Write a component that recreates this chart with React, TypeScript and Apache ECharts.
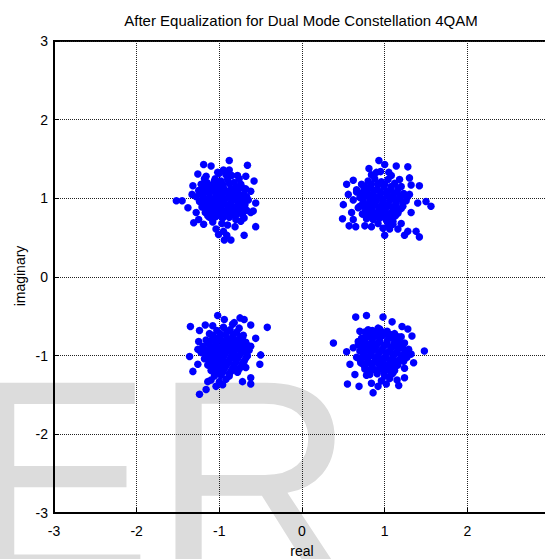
import React, { useEffect, useRef } from "react";
import * as echarts from "echarts";

const titleText = "After Equalization for Dual Mode Constellation 4QAM";
const xAxisName = "real";
const yAxisName = "imaginary";
const axisMin = -3;
const axisMax = 3;
const axisStep = 1;
const watermarkText = "ER";

// Cluster near (-1, 1)
const clusterTL: number[][] = [
  [-1.19, 1.43], [-1.10, 1.41], [-0.88, 1.48], [-1.02, 1.33], [-0.95, 1.36], [-0.88, 1.36],
  [-0.66, 1.42], [-1.26, 1.31], [-0.78, 1.29], [-0.68, 1.28], [-0.58, 1.22], [-1.52, 0.97],
  [-1.45, 0.97], [-1.38, 0.88], [-1.32, 1.16], [-1.33, 1.05], [-0.62, 1.09], [-0.56, 0.94],
  [-0.59, 0.84], [-0.62, 0.82], [-0.70, 0.75], [-0.56, 0.64], [-1.31, 0.69], [-1.25, 0.73],
  [-1.28, 0.82], [-1.19, 0.67], [-1.04, 0.61], [-1.01, 0.54], [-0.95, 0.58], [-0.91, 0.53],
  [-0.94, 0.47], [-0.86, 0.47], [-0.81, 0.64], [-0.70, 0.53], [-1.08, 0.73], [-1.14, 0.78],
  [-0.74, 0.71], [-1.16, 1.28], [-1.06, 1.22], [-1.20, 1.18],
  [-1.22, 1.18], [-1.15, 1.20], [-1.05, 1.25], [-0.98, 1.22], [-0.90, 1.24], [-0.82, 1.20],
  [-0.74, 1.18], [-0.68, 1.12], [-1.25, 1.10], [-1.18, 1.12], [-1.10, 1.14], [-1.02, 1.15],
  [-0.95, 1.13], [-0.86, 1.12], [-0.78, 1.10], [-0.70, 1.05], [-1.28, 1.02], [-1.20, 1.04],
  [-1.12, 1.06], [-1.04, 1.07], [-0.97, 1.05], [-0.89, 1.06], [-0.81, 1.03], [-0.73, 1.00],
  [-0.65, 0.98], [-1.24, 0.96], [-1.16, 0.97], [-1.08, 0.99], [-1.00, 0.98], [-0.93, 0.99],
  [-0.85, 0.97], [-0.77, 0.95], [-0.69, 0.92], [-1.21, 0.89], [-1.13, 0.90], [-1.05, 0.91],
  [-0.98, 0.90], [-0.90, 0.91], [-0.83, 0.89], [-0.75, 0.87], [-0.67, 0.85], [-1.17, 0.82],
  [-1.09, 0.83], [-1.02, 0.84], [-0.94, 0.82], [-0.86, 0.83], [-0.79, 0.80], [-0.72, 0.79],
  [-1.12, 0.76], [-1.04, 0.77], [-0.96, 0.75], [-0.88, 0.76], [-0.80, 0.73], [-0.92, 1.30],
  [-1.00, 1.32], [-0.85, 1.29], [-1.08, 0.70], [-0.97, 0.68], [-0.90, 0.66], [-1.18, 1.25],
  [-0.76, 1.25],
  [-1.20, 1.15], [-1.12, 1.17], [-1.04, 1.19], [-0.96, 1.18], [-0.88, 1.19], [-0.80, 1.15],
  [-0.72, 1.13], [-1.23, 1.06], [-1.15, 1.09], [-1.07, 1.10], [-0.99, 1.10], [-0.91, 1.09],
  [-0.83, 1.07], [-0.75, 1.04], [-0.67, 1.02], [-1.20, 1.00], [-1.12, 1.01], [-1.04, 1.02],
  [-0.96, 1.01], [-0.88, 1.02], [-0.80, 0.99], [-0.72, 0.96], [-1.18, 0.93], [-1.10, 0.94],
  [-1.02, 0.95], [-0.94, 0.94], [-0.86, 0.94], [-0.78, 0.91], [-0.71, 0.88], [-1.14, 0.86],
  [-1.06, 0.87], [-0.98, 0.86], [-0.90, 0.87], [-0.82, 0.85], [-0.74, 0.83], [-1.08, 0.80],
  [-1.00, 0.80], [-0.92, 0.79], [-0.84, 0.79],
];

// Cluster near (1, 1)
const clusterTR: number[][] = [
  [0.93, 1.48], [1.00, 1.43], [1.14, 1.41], [1.28, 1.40], [0.81, 1.38], [0.90, 1.33],
  [1.05, 1.33], [1.30, 1.26], [0.54, 1.18], [0.62, 1.23], [1.32, 1.17], [1.42, 1.16],
  [0.56, 1.05], [0.50, 0.92], [1.50, 0.96], [1.56, 0.90], [1.40, 0.94], [1.32, 0.82],
  [0.49, 0.74], [0.57, 0.65], [0.65, 0.64], [0.62, 0.73], [0.76, 0.65], [0.84, 0.64],
  [1.00, 0.53], [1.06, 0.61], [1.16, 0.61], [1.28, 0.58], [1.24, 0.53], [1.38, 0.58],
  [1.42, 0.51], [1.20, 0.68], [1.10, 0.67], [1.26, 1.03], [1.18, 1.24], [0.70, 0.90],
  [0.66, 1.11], [0.74, 0.80],
  [0.72, 1.18], [0.80, 1.22], [0.88, 1.25], [0.96, 1.21], [1.04, 1.24], [1.12, 1.19],
  [1.20, 1.15], [0.66, 1.08], [0.75, 1.12], [0.83, 1.14], [0.91, 1.12], [0.99, 1.15],
  [1.07, 1.11], [1.15, 1.08], [1.23, 1.06], [0.70, 1.01], [0.78, 1.04], [0.86, 1.05],
  [0.94, 1.03], [1.02, 1.06], [1.10, 1.02], [1.18, 1.00], [1.26, 0.97], [0.74, 0.94],
  [0.82, 0.96], [0.90, 0.97], [0.98, 0.95], [1.06, 0.97], [1.14, 0.93], [1.22, 0.90],
  [0.68, 0.88], [0.77, 0.87], [0.85, 0.89], [0.93, 0.88], [1.01, 0.87], [1.09, 0.89],
  [1.17, 0.85], [0.73, 0.80], [0.81, 0.81], [0.89, 0.80], [0.97, 0.82], [1.05, 0.79],
  [1.13, 0.78], [0.78, 0.74], [0.86, 0.73], [0.94, 0.75], [1.02, 0.72], [1.10, 0.71],
  [0.92, 0.68], [0.98, 0.62], [1.04, 0.66], [0.84, 1.30], [0.95, 1.34], [1.08, 1.29],
  [0.62, 0.98], [1.30, 1.05], [0.60, 0.82],
  [0.76, 1.15], [0.84, 1.18], [0.92, 1.18], [1.00, 1.18], [1.08, 1.15], [1.16, 1.12],
  [0.71, 1.06], [0.79, 1.08], [0.87, 1.09], [0.95, 1.08], [1.03, 1.09], [1.11, 1.06],
  [1.19, 1.03], [1.27, 1.01], [0.74, 0.98], [0.82, 1.00], [0.90, 1.01], [0.98, 0.99],
  [1.06, 1.01], [1.14, 0.98], [1.22, 0.95], [0.72, 0.91], [0.80, 0.92], [0.88, 0.93],
  [0.96, 0.91], [1.04, 0.92], [1.12, 0.90], [1.20, 0.87], [0.77, 0.84], [0.85, 0.85],
  [0.93, 0.84], [1.01, 0.83], [1.09, 0.83], [1.16, 0.81], [0.82, 0.77], [0.90, 0.77],
  [0.98, 0.78], [1.06, 0.75],
];

// Cluster near (-1, -1)
const clusterBL: number[][] = [
  [-1.02, -0.49], [-0.94, -0.54], [-0.75, -0.52], [-0.70, -0.54], [-0.82, -0.58], [-1.35, -0.63],
  [-1.24, -0.68], [-1.17, -0.61], [-0.62, -0.61], [-0.76, -0.65], [-0.42, -0.64], [-1.25, -0.82],
  [-0.72, -0.77], [-0.56, -0.78], [-0.62, -0.88], [-0.50, -0.99], [-1.36, -1.01], [-1.26, -1.11],
  [-1.32, -1.20], [-0.51, -1.11], [-0.68, -1.15], [-0.62, -1.28], [-0.62, -1.36], [-1.14, -1.33],
  [-1.16, -1.43], [-1.24, -1.49], [-1.04, -1.39], [-0.96, -1.37], [-0.72, -1.33], [-0.82, -1.03],
  [-1.10, -1.31], [-0.88, -1.26],
  [-1.12, -0.72], [-1.03, -0.68], [-0.95, -0.64], [-0.87, -0.67], [-0.79, -0.70], [-0.71, -0.74],
  [-1.16, -0.80], [-1.08, -0.78], [-1.00, -0.76], [-0.92, -0.74], [-0.84, -0.77], [-0.76, -0.79],
  [-0.68, -0.83], [-1.20, -0.88], [-1.12, -0.86], [-1.04, -0.85], [-0.96, -0.83], [-0.88, -0.84],
  [-0.80, -0.86], [-0.72, -0.89], [-0.64, -0.93], [-1.22, -0.96], [-1.14, -0.94], [-1.06, -0.93],
  [-0.98, -0.92], [-0.90, -0.93], [-0.82, -0.95], [-0.74, -0.97], [-0.66, -1.00], [-1.18, -1.04],
  [-1.10, -1.02], [-1.02, -1.01], [-0.94, -1.00], [-0.86, -1.02], [-0.78, -1.04], [-0.70, -1.07],
  [-1.14, -1.12], [-1.06, -1.10], [-0.98, -1.09], [-0.90, -1.10], [-0.82, -1.12], [-0.74, -1.14],
  [-1.10, -1.19], [-1.02, -1.18], [-0.94, -1.17], [-0.86, -1.20], [-0.78, -1.21], [-1.06, -1.26],
  [-0.98, -1.25], [-0.92, -1.30], [-1.00, -1.33], [-0.84, -0.60], [-1.08, -0.62], [-1.26, -0.92],
  [-1.08, -0.74], [-0.99, -0.72], [-0.91, -0.70], [-0.83, -0.73], [-0.75, -0.76], [-1.14, -0.83],
  [-1.06, -0.81], [-0.98, -0.80], [-0.90, -0.79], [-0.82, -0.81], [-0.74, -0.84], [-0.66, -0.87],
  [-1.18, -0.92], [-1.10, -0.90], [-1.02, -0.89], [-0.94, -0.88], [-0.86, -0.89], [-0.78, -0.91],
  [-0.70, -0.94], [-1.16, -0.99], [-1.08, -0.98], [-1.00, -0.97], [-0.92, -0.96], [-0.84, -0.98],
  [-0.76, -1.00], [-0.68, -1.03], [-1.12, -1.07], [-1.04, -1.06], [-0.96, -1.05], [-0.88, -1.06],
  [-0.80, -1.08], [-0.72, -1.10], [-1.08, -1.15], [-1.00, -1.14], [-0.92, -1.13], [-0.84, -1.16],
  [-0.76, -1.17], [-1.04, -1.22], [-0.96, -1.21], [-0.88, -1.23],
];

// Cluster near (1, -1)
const clusterBR: number[][] = [
  [0.65, -0.51], [0.78, -0.49], [0.98, -0.51], [1.09, -0.57], [1.21, -0.63], [1.28, -0.66],
  [1.33, -0.75], [0.70, -0.69], [0.80, -0.67], [0.38, -0.84], [0.54, -0.95], [1.48, -0.94],
  [1.35, -1.09], [0.58, -1.11], [0.64, -1.24], [0.55, -1.36], [0.69, -1.39], [0.78, -1.25],
  [0.84, -1.35], [0.86, -1.47], [0.92, -1.39], [1.02, -1.36], [1.17, -1.38], [1.15, -1.31],
  [1.24, -1.28], [1.24, -1.16], [1.10, -1.22], [0.68, -0.82], [1.22, -0.90], [0.92, -0.65],
  [0.76, -0.70], [0.85, -0.68], [0.94, -0.66], [1.03, -0.69], [1.12, -0.72], [1.20, -0.76],
  [0.72, -0.78], [0.80, -0.76], [0.89, -0.75], [0.98, -0.74], [1.07, -0.77], [1.16, -0.80],
  [1.24, -0.84], [0.68, -0.86], [0.76, -0.84], [0.85, -0.83], [0.94, -0.82], [1.03, -0.85],
  [1.12, -0.87], [1.21, -0.89], [1.29, -0.92], [0.70, -0.94], [0.79, -0.92], [0.88, -0.91],
  [0.97, -0.92], [1.06, -0.94], [1.15, -0.95], [1.24, -0.97], [0.66, -1.02], [0.74, -1.00],
  [0.83, -0.99], [0.92, -1.00], [1.01, -1.01], [1.10, -1.03], [1.19, -1.04], [1.27, -1.02],
  [0.71, -1.09], [0.80, -1.08], [0.89, -1.07], [0.98, -1.09], [1.07, -1.10], [1.16, -1.12],
  [0.76, -1.17], [0.85, -1.16], [0.94, -1.15], [1.03, -1.18], [1.12, -1.19], [0.82, -1.24],
  [0.91, -1.23], [1.00, -1.26], [1.06, -1.29], [0.96, -1.32], [0.62, -0.90], [1.32, -0.98],
  [0.80, -0.72], [0.89, -0.71], [0.98, -0.70], [1.07, -0.73], [1.16, -0.76], [0.76, -0.80],
  [0.85, -0.79], [0.94, -0.78], [1.03, -0.81], [1.12, -0.83], [1.20, -0.85], [0.72, -0.90],
  [0.81, -0.88], [0.90, -0.87], [0.99, -0.88], [1.08, -0.90], [1.17, -0.91], [1.26, -0.94],
  [0.75, -0.97], [0.84, -0.95], [0.93, -0.96], [1.02, -0.97], [1.11, -0.99], [1.20, -1.00],
  [0.70, -1.05], [0.79, -1.04], [0.88, -1.03], [0.97, -1.05], [1.06, -1.06], [1.15, -1.08],
  [1.23, -1.07], [0.76, -1.13], [0.85, -1.12], [0.94, -1.11], [1.03, -1.14], [1.12, -1.15],
  [0.81, -1.20], [0.90, -1.19], [0.99, -1.21], [1.08, -1.24],
  [0.78, -0.75], [0.87, -0.73], [0.96, -0.72], [1.05, -0.75], [1.14, -0.78], [0.74, -0.85],
  [0.83, -0.85], [0.92, -0.84], [1.01, -0.86], [1.10, -0.88], [1.19, -0.87], [0.77, -0.93],
  [0.86, -0.93], [0.95, -0.94], [1.04, -0.96], [1.13, -0.97], [1.22, -0.99], [0.72, -1.03],
  [0.81, -1.01], [0.90, -1.02], [0.99, -1.03], [1.08, -1.05], [1.17, -1.06], [0.74, -1.11],
  [0.83, -1.10], [0.92, -1.09], [1.01, -1.12], [1.10, -1.13], [0.79, -1.18], [0.88, -1.18],
  [0.97, -1.17], [1.06, -1.19],
];

const FONT = "'Liberation Sans', Arial, Helvetica, sans-serif";

export default function App() {
  const ref = useRef<HTMLDivElement>(null);

  useEffect(() => {
    if (!ref.current) return;
    const chart = echarts.init(ref.current, null, { renderer: "svg" });
    const points = [...clusterTL, ...clusterTR, ...clusterBL, ...clusterBR];

    const axisCommon = {
      type: "value" as const,
      min: axisMin,
      max: axisMax,
      interval: axisStep,
      axisLine: { show: true, onZero: false, lineStyle: { color: "#000", width: 2 } },
      axisTick: { show: true, inside: true, length: 5, lineStyle: { color: "#000", width: 1 } },
      splitLine: { show: true, lineStyle: { color: "#222", width: 1, type: "dotted" as const } },
      axisLabel: { color: "#000", fontSize: 14, fontFamily: FONT },
    };

    chart.setOption({
      animation: false,
      backgroundColor: "#fff",
      grid: {
        left: 54,
        top: 41,
        width: 496,
        height: 472,
        show: true,
        borderColor: "#000",
        borderWidth: 2,
        backgroundColor: "transparent",
        containLabel: false,
      },
      xAxis: {
        ...axisCommon,
        axisLabel: { ...axisCommon.axisLabel, margin: 11, showMaxLabel: false },
      },
      yAxis: {
        ...axisCommon,
        axisLabel: { ...axisCommon.axisLabel, margin: 6 },
      },
      graphic: [
        {
          type: "text",
          z: -10,
          silent: true,
          x: -35,
          y: 479,
          style: {
            text: watermarkText,
            font: `281px ${FONT}`,
            fill: "#dcdcdc",
            textAlign: "left",
            textVerticalAlign: "middle",
          },
        },
        {
          type: "text",
          x: 301,
          y: 20,
          style: {
            text: titleText,
            font: `15px ${FONT}`,
            fill: "#000",
            textAlign: "center",
            textVerticalAlign: "middle",
          },
        },
        {
          type: "text",
          x: 302,
          y: 551,
          style: {
            text: xAxisName,
            font: `14px ${FONT}`,
            fill: "#000",
            textAlign: "center",
            textVerticalAlign: "middle",
          },
        },
        {
          type: "text",
          x: 20,
          y: 276,
          rotation: Math.PI / 2,
          style: {
            text: yAxisName,
            font: `14px ${FONT}`,
            fill: "#000",
            textAlign: "center",
            textVerticalAlign: "middle",
          },
        },
      ],
      series: [
        {
          type: "scatter",
          data: points,
          symbol: "circle",
          symbolSize: 7.5,
          itemStyle: { color: "#0000ff", opacity: 1 },
          z: 5,
        },
      ],
    });

    return () => chart.dispose();
  }, []);

  return (
    <div style={{ position: "fixed", left: 0, top: 0, width: 545, height: 559, overflow: "hidden" }}>
      <div ref={ref} style={{ width: 570, height: 559 }} />
    </div>
  );
}
